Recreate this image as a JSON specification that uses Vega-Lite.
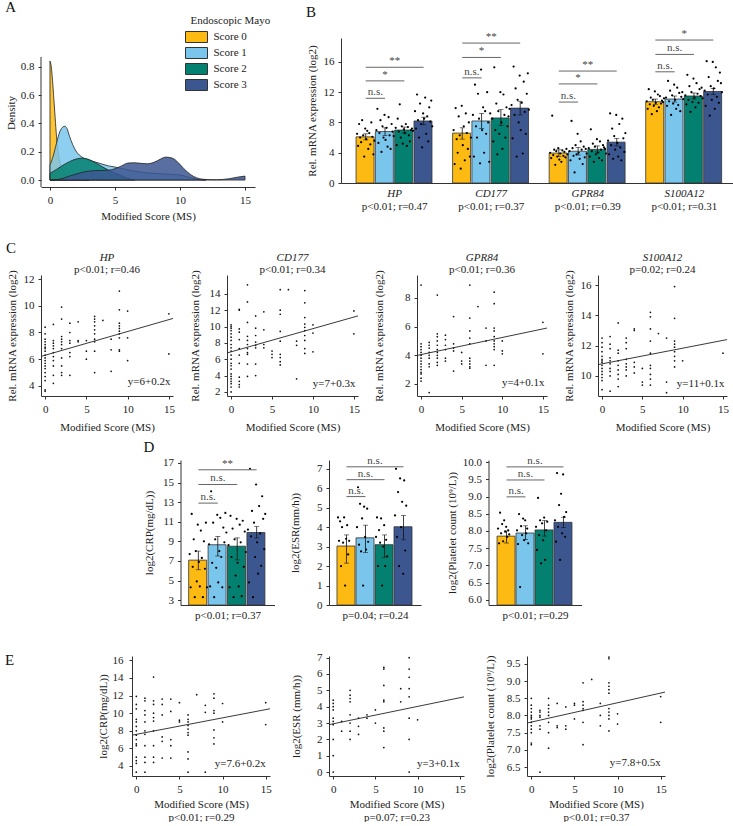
{
"$schema": "https://vega.github.io/schema/vega-lite/v6.json",
"padding": {"left": 5, "top": 0, "right": 2, "bottom": 0},
"config": {
 "font": "Liberation Serif",
 "view": {"stroke": null},
 "axis": {"grid": false, "domainColor": "#333", "tickColor": "#333", "labelColor": "#222", "titleColor": "#222", "labelFont": "Liberation Serif", "titleFont": "Liberation Serif", "labelFontSize": 11, "titleFontSize": 11, "titleFontWeight": "normal", "tickSize": 3, "labelPadding": 4, "titlePadding": 5, "labelFlush": false, "labelOverlap": false},
 "axisX": {"labelOverlap": false, "titleFontWeight": "normal", "titleFont": "Liberation Serif", "labelFont": "Liberation Serif"},
 "axisY": {"labelOverlap": false, "titleFontWeight": "normal", "titleFont": "Liberation Serif", "labelFont": "Liberation Serif"},
 "style": {"guide-title": {"font": "Liberation Serif", "fontWeight": "normal"}, "guide-label": {"font": "Liberation Serif"}},
 "title": {"fontWeight": "normal", "fontSize": 15, "color": "#111", "font": "Liberation Serif"},
 "legend": {"labelFontSize": 11, "titleFontSize": 11, "titleFontWeight": "normal", "labelFont": "Liberation Serif", "titleFont": "Liberation Serif"},
 "text": {"fontSize": 11, "color": "#222", "font": "Liberation Serif"}
},
"datasets": {
 "dens": [
  {"s":"Score 0","ms":0,"d":0.84},{"s":"Score 0","ms":0.1,"d":0.8},{"s":"Score 0","ms":0.2,"d":0.7},{"s":"Score 0","ms":0.3,"d":0.57},{"s":"Score 0","ms":0.4,"d":0.44},{"s":"Score 0","ms":0.5,"d":0.31},{"s":"Score 0","ms":0.6,"d":0.21},{"s":"Score 0","ms":0.75,"d":0.13},{"s":"Score 0","ms":0.9,"d":0.08},{"s":"Score 0","ms":1.1,"d":0.05},{"s":"Score 0","ms":1.5,"d":0.02},{"s":"Score 0","ms":2,"d":0.008},{"s":"Score 0","ms":2.5,"d":0.002},{"s":"Score 0","ms":3,"d":0},
  {"s":"Score 1","ms":0,"d":0.106},{"s":"Score 1","ms":0.25,"d":0.17},{"s":"Score 1","ms":0.5,"d":0.26},{"s":"Score 1","ms":0.75,"d":0.34},{"s":"Score 1","ms":1,"d":0.375},{"s":"Score 1","ms":1.15,"d":0.38},{"s":"Score 1","ms":1.3,"d":0.365},{"s":"Score 1","ms":1.5,"d":0.31},{"s":"Score 1","ms":1.75,"d":0.25},{"s":"Score 1","ms":2,"d":0.205},{"s":"Score 1","ms":2.5,"d":0.16},{"s":"Score 1","ms":3,"d":0.14},{"s":"Score 1","ms":3.5,"d":0.127},{"s":"Score 1","ms":4,"d":0.113},{"s":"Score 1","ms":4.5,"d":0.1},{"s":"Score 1","ms":5,"d":0.092},{"s":"Score 1","ms":6,"d":0.072},{"s":"Score 1","ms":7,"d":0.056},{"s":"Score 1","ms":8,"d":0.047},{"s":"Score 1","ms":9,"d":0.042},{"s":"Score 1","ms":10,"d":0.036},{"s":"Score 1","ms":10.6,"d":0.022},{"s":"Score 1","ms":11.2,"d":0.007},{"s":"Score 1","ms":12,"d":0},
  {"s":"Score 2","ms":0,"d":0.047},{"s":"Score 2","ms":0.5,"d":0.075},{"s":"Score 2","ms":1,"d":0.105},{"s":"Score 2","ms":1.5,"d":0.13},{"s":"Score 2","ms":2,"d":0.148},{"s":"Score 2","ms":2.5,"d":0.155},{"s":"Score 2","ms":3,"d":0.145},{"s":"Score 2","ms":3.5,"d":0.122},{"s":"Score 2","ms":4,"d":0.095},{"s":"Score 2","ms":4.5,"d":0.07},{"s":"Score 2","ms":5,"d":0.05},{"s":"Score 2","ms":5.5,"d":0.03},{"s":"Score 2","ms":6,"d":0.012},{"s":"Score 2","ms":6.5,"d":0.002},
  {"s":"Score 3","ms":0,"d":0},{"s":"Score 3","ms":0.5,"d":0.003},{"s":"Score 3","ms":1,"d":0.012},{"s":"Score 3","ms":1.5,"d":0.028},{"s":"Score 3","ms":2,"d":0.042},{"s":"Score 3","ms":2.5,"d":0.055},{"s":"Score 3","ms":3,"d":0.063},{"s":"Score 3","ms":3.5,"d":0.067},{"s":"Score 3","ms":4,"d":0.068},{"s":"Score 3","ms":4.5,"d":0.07},{"s":"Score 3","ms":5,"d":0.08},{"s":"Score 3","ms":5.5,"d":0.1},{"s":"Score 3","ms":6,"d":0.12},{"s":"Score 3","ms":6.5,"d":0.122},{"s":"Score 3","ms":7,"d":0.118},{"s":"Score 3","ms":7.5,"d":0.115},{"s":"Score 3","ms":8,"d":0.125},{"s":"Score 3","ms":8.5,"d":0.148},{"s":"Score 3","ms":8.9,"d":0.162},{"s":"Score 3","ms":9.4,"d":0.155},{"s":"Score 3","ms":9.9,"d":0.12},{"s":"Score 3","ms":10.3,"d":0.08},{"s":"Score 3","ms":10.8,"d":0.04},{"s":"Score 3","ms":11.3,"d":0.015},{"s":"Score 3","ms":12,"d":0.004},{"s":"Score 3","ms":12.8,"d":0.002},{"s":"Score 3","ms":13.8,"d":0.01},{"s":"Score 3","ms":14.4,"d":0.02},{"s":"Score 3","ms":15,"d":0.028}
 ],
 "bbars": [
  {"b":"HP|0","s":"Score 0","m":6.1,"lo":5.7,"hi":6.5},{"b":"HP|1","s":"Score 1","m":6.8,"lo":6.3,"hi":7.3},{"b":"HP|2","s":"Score 2","m":7.0,"lo":6.6,"hi":7.4},{"b":"HP|3","s":"Score 3","m":8.2,"lo":7.7,"hi":8.7},
  {"b":"CD177|0","s":"Score 0","m":6.6,"lo":5.8,"hi":7.3},{"b":"CD177|1","s":"Score 1","m":8.2,"lo":7.2,"hi":9.2},{"b":"CD177|2","s":"Score 2","m":8.6,"lo":7.6,"hi":9.7},{"b":"CD177|3","s":"Score 3","m":9.9,"lo":9.0,"hi":10.8},
  {"b":"GPR84|0","s":"Score 0","m":3.96,"lo":3.5,"hi":4.4},{"b":"GPR84|1","s":"Score 1","m":4.2,"lo":3.7,"hi":4.7},{"b":"GPR84|2","s":"Score 2","m":4.45,"lo":4.1,"hi":4.9},{"b":"GPR84|3","s":"Score 3","m":5.4,"lo":4.9,"hi":5.9},
  {"b":"S100A12|0","s":"Score 0","m":10.75,"lo":10.4,"hi":11.1},{"b":"S100A12|1","s":"Score 1","m":11.1,"lo":10.7,"hi":11.5},{"b":"S100A12|2","s":"Score 2","m":11.5,"lo":11.1,"hi":11.9},{"b":"S100A12|3","s":"Score 3","m":12.1,"lo":11.7,"hi":12.5}
 ],
 "bpts": [
  {"b":"HP|0","v":6.5},{"b":"HP|0","v":4.9},{"b":"HP|0","v":7.8},{"b":"HP|0","v":6.0},{"b":"HP|0","v":5.4},{"b":"HP|0","v":8.3},{"b":"HP|0","v":6.3},{"b":"HP|0","v":3.5},{"b":"HP|0","v":7.2},{"b":"HP|0","v":5.8},{"b":"HP|0","v":6.9},{"b":"HP|0","v":4.5},{"b":"HP|0","v":6.6},{"b":"HP|0","v":5.1},{"b":"HP|0","v":8.0},{"b":"HP|0","v":6.1},{"b":"HP|0","v":3.8},{"b":"HP|0","v":5.6},
  {"b":"HP|1","v":7.0},{"b":"HP|1","v":9.8},{"b":"HP|1","v":5.3},{"b":"HP|1","v":6.6},{"b":"HP|1","v":8.3},{"b":"HP|1","v":4.1},{"b":"HP|1","v":7.5},{"b":"HP|1","v":6.0},{"b":"HP|1","v":9.0},{"b":"HP|1","v":5.7},{"b":"HP|1","v":7.3},{"b":"HP|1","v":4.8},{"b":"HP|1","v":8.7},{"b":"HP|1","v":6.3},{"b":"HP|1","v":4.5},{"b":"HP|1","v":7.8},{"b":"HP|1","v":6.8},{"b":"HP|1","v":6.2},
  {"b":"HP|2","v":7.3},{"b":"HP|2","v":5.0},{"b":"HP|2","v":8.5},{"b":"HP|2","v":6.8},{"b":"HP|2","v":10.4},{"b":"HP|2","v":6.0},{"b":"HP|2","v":7.5},{"b":"HP|2","v":5.2},{"b":"HP|2","v":7.1},{"b":"HP|2","v":6.6},{"b":"HP|2","v":7.8},{"b":"HP|2","v":4.9},{"b":"HP|2","v":7.4},{"b":"HP|2","v":6.3},{"b":"HP|2","v":5.5},{"b":"HP|2","v":7.0},{"b":"HP|2","v":7.2},{"b":"HP|2","v":6.9},
  {"b":"HP|3","v":9.5},{"b":"HP|3","v":7.2},{"b":"HP|3","v":11.7},{"b":"HP|3","v":8.3},{"b":"HP|3","v":6.0},{"b":"HP|3","v":10.5},{"b":"HP|3","v":7.8},{"b":"HP|3","v":4.7},{"b":"HP|3","v":9.2},{"b":"HP|3","v":8.5},{"b":"HP|3","v":11.3},{"b":"HP|3","v":6.5},{"b":"HP|3","v":8.8},{"b":"HP|3","v":5.5},{"b":"HP|3","v":10.0},{"b":"HP|3","v":8.1},{"b":"HP|3","v":10.9},{"b":"HP|3","v":7.5},
  {"b":"CD177|0","v":7.0},{"b":"CD177|0","v":2.5},{"b":"CD177|0","v":9.9},{"b":"CD177|0","v":5.8},{"b":"CD177|0","v":4.0},{"b":"CD177|0","v":8.8},{"b":"CD177|0","v":6.3},{"b":"CD177|0","v":1.9},{"b":"CD177|0","v":10.2},{"b":"CD177|0","v":5.0},{"b":"CD177|0","v":7.5},{"b":"CD177|0","v":3.0},{"b":"CD177|0","v":9.2},{"b":"CD177|0","v":6.6},{"b":"CD177|0","v":4.5},{"b":"CD177|0","v":8.0},{"b":"CD177|0","v":3.5},{"b":"CD177|0","v":6.0},
  {"b":"CD177|1","v":9.0},{"b":"CD177|1","v":3.5},{"b":"CD177|1","v":13.0},{"b":"CD177|1","v":7.5},{"b":"CD177|1","v":6.0},{"b":"CD177|1","v":11.8},{"b":"CD177|1","v":8.5},{"b":"CD177|1","v":2.6},{"b":"CD177|1","v":15.0},{"b":"CD177|1","v":7.0},{"b":"CD177|1","v":10.0},{"b":"CD177|1","v":4.0},{"b":"CD177|1","v":9.5},{"b":"CD177|1","v":6.5},{"b":"CD177|1","v":12.0},{"b":"CD177|1","v":8.0},{"b":"CD177|1","v":2.8},{"b":"CD177|1","v":9.2},
  {"b":"CD177|2","v":8.5},{"b":"CD177|2","v":5.5},{"b":"CD177|2","v":15.3},{"b":"CD177|2","v":7.0},{"b":"CD177|2","v":10.5},{"b":"CD177|2","v":3.8},{"b":"CD177|2","v":9.5},{"b":"CD177|2","v":6.5},{"b":"CD177|2","v":12.0},{"b":"CD177|2","v":8.0},{"b":"CD177|2","v":4.5},{"b":"CD177|2","v":11.7},{"b":"CD177|2","v":9.0},{"b":"CD177|2","v":6.0},{"b":"CD177|2","v":10.0},{"b":"CD177|2","v":7.5},{"b":"CD177|2","v":8.8},{"b":"CD177|2","v":9.8},
  {"b":"CD177|3","v":10.3},{"b":"CD177|3","v":5.9},{"b":"CD177|3","v":15.4},{"b":"CD177|3","v":9.0},{"b":"CD177|3","v":12.5},{"b":"CD177|3","v":3.5},{"b":"CD177|3","v":11.0},{"b":"CD177|3","v":8.0},{"b":"CD177|3","v":14.2},{"b":"CD177|3","v":7.0},{"b":"CD177|3","v":10.6},{"b":"CD177|3","v":3.9},{"b":"CD177|3","v":13.4},{"b":"CD177|3","v":9.4},{"b":"CD177|3","v":6.5},{"b":"CD177|3","v":11.8},{"b":"CD177|3","v":14.5},{"b":"CD177|3","v":9.7},
  {"b":"GPR84|0","v":4.0},{"b":"GPR84|0","v":3.3},{"b":"GPR84|0","v":8.9},{"b":"GPR84|0","v":3.7},{"b":"GPR84|0","v":4.4},{"b":"GPR84|0","v":2.4},{"b":"GPR84|0","v":4.2},{"b":"GPR84|0","v":3.5},{"b":"GPR84|0","v":4.6},{"b":"GPR84|0","v":3.1},{"b":"GPR84|0","v":3.9},{"b":"GPR84|0","v":2.8},{"b":"GPR84|0","v":4.3},{"b":"GPR84|0","v":3.6},{"b":"GPR84|0","v":4.1},{"b":"GPR84|0","v":3.4},{"b":"GPR84|0","v":4.5},{"b":"GPR84|0","v":3.8},
  {"b":"GPR84|1","v":4.2},{"b":"GPR84|1","v":3.0},{"b":"GPR84|1","v":8.2},{"b":"GPR84|1","v":4.6},{"b":"GPR84|1","v":3.6},{"b":"GPR84|1","v":1.4},{"b":"GPR84|1","v":5.0},{"b":"GPR84|1","v":3.8},{"b":"GPR84|1","v":6.5},{"b":"GPR84|1","v":4.0},{"b":"GPR84|1","v":3.2},{"b":"GPR84|1","v":5.5},{"b":"GPR84|1","v":4.4},{"b":"GPR84|1","v":2.5},{"b":"GPR84|1","v":4.8},{"b":"GPR84|1","v":3.4},{"b":"GPR84|1","v":4.5},{"b":"GPR84|1","v":3.9},
  {"b":"GPR84|2","v":4.6},{"b":"GPR84|2","v":3.5},{"b":"GPR84|2","v":7.1},{"b":"GPR84|2","v":4.2},{"b":"GPR84|2","v":5.2},{"b":"GPR84|2","v":2.8},{"b":"GPR84|2","v":4.8},{"b":"GPR84|2","v":3.8},{"b":"GPR84|2","v":5.8},{"b":"GPR84|2","v":4.0},{"b":"GPR84|2","v":3.3},{"b":"GPR84|2","v":5.5},{"b":"GPR84|2","v":4.4},{"b":"GPR84|2","v":3.0},{"b":"GPR84|2","v":5.0},{"b":"GPR84|2","v":4.7},{"b":"GPR84|2","v":4.5},{"b":"GPR84|2","v":3.9},
  {"b":"GPR84|3","v":5.6},{"b":"GPR84|3","v":3.8},{"b":"GPR84|3","v":9.2},{"b":"GPR84|3","v":5.0},{"b":"GPR84|3","v":7.2},{"b":"GPR84|3","v":3.2},{"b":"GPR84|3","v":6.2},{"b":"GPR84|3","v":4.4},{"b":"GPR84|3","v":9.0},{"b":"GPR84|3","v":5.3},{"b":"GPR84|3","v":3.5},{"b":"GPR84|3","v":7.8},{"b":"GPR84|3","v":4.7},{"b":"GPR84|3","v":3.0},{"b":"GPR84|3","v":8.5},{"b":"GPR84|3","v":5.9},{"b":"GPR84|3","v":4.1},{"b":"GPR84|3","v":6.6},
  {"b":"S100A12|0","v":10.8},{"b":"S100A12|0","v":9.8},{"b":"S100A12|0","v":12.4},{"b":"S100A12|0","v":10.4},{"b":"S100A12|0","v":11.3},{"b":"S100A12|0","v":9.1},{"b":"S100A12|0","v":11.0},{"b":"S100A12|0","v":10.2},{"b":"S100A12|0","v":12.1},{"b":"S100A12|0","v":10.6},{"b":"S100A12|0","v":9.5},{"b":"S100A12|0","v":11.7},{"b":"S100A12|0","v":10.0},{"b":"S100A12|0","v":11.5},{"b":"S100A12|0","v":10.5},{"b":"S100A12|0","v":10.9},{"b":"S100A12|0","v":10.7},{"b":"S100A12|0","v":11.2},
  {"b":"S100A12|1","v":11.3},{"b":"S100A12|1","v":10.2},{"b":"S100A12|1","v":13.5},{"b":"S100A12|1","v":10.8},{"b":"S100A12|1","v":12.2},{"b":"S100A12|1","v":9.0},{"b":"S100A12|1","v":11.6},{"b":"S100A12|1","v":10.5},{"b":"S100A12|1","v":13.0},{"b":"S100A12|1","v":11.0},{"b":"S100A12|1","v":9.8},{"b":"S100A12|1","v":12.6},{"b":"S100A12|1","v":10.3},{"b":"S100A12|1","v":11.9},{"b":"S100A12|1","v":9.5},{"b":"S100A12|1","v":11.4},{"b":"S100A12|1","v":12.0},{"b":"S100A12|1","v":11.1},
  {"b":"S100A12|2","v":11.6},{"b":"S100A12|2","v":10.4},{"b":"S100A12|2","v":14.3},{"b":"S100A12|2","v":11.0},{"b":"S100A12|2","v":12.8},{"b":"S100A12|2","v":9.4},{"b":"S100A12|2","v":12.0},{"b":"S100A12|2","v":10.7},{"b":"S100A12|2","v":13.8},{"b":"S100A12|2","v":11.3},{"b":"S100A12|2","v":10.0},{"b":"S100A12|2","v":13.2},{"b":"S100A12|2","v":11.8},{"b":"S100A12|2","v":10.6},{"b":"S100A12|2","v":12.4},{"b":"S100A12|2","v":11.5},{"b":"S100A12|2","v":12.6},{"b":"S100A12|2","v":11.2},
  {"b":"S100A12|3","v":12.2},{"b":"S100A12|3","v":10.2},{"b":"S100A12|3","v":16.1},{"b":"S100A12|3","v":11.7},{"b":"S100A12|3","v":14.0},{"b":"S100A12|3","v":8.9},{"b":"S100A12|3","v":12.8},{"b":"S100A12|3","v":11.0},{"b":"S100A12|3","v":16.0},{"b":"S100A12|3","v":12.5},{"b":"S100A12|3","v":9.8},{"b":"S100A12|3","v":15.3},{"b":"S100A12|3","v":11.4},{"b":"S100A12|3","v":13.5},{"b":"S100A12|3","v":10.6},{"b":"S100A12|3","v":14.6},{"b":"S100A12|3","v":13.2},{"b":"S100A12|3","v":12.0}
 ],
 "bbr": [
  {"x1":"HP|0","x2":"HP|1","mid":"HP|1","vs":1,"y":11.2,"lab":"n.s."},{"x1":"HP|0","x2":"HP|2","mid":"HP|1","vs":2,"y":13.5,"lab":"*"},{"x1":"HP|0","x2":"HP|3","mid":"HP|1","vs":3,"y":15.3,"lab":"**"},
  {"x1":"CD177|0","x2":"CD177|1","mid":"CD177|1","vs":1,"y":13.9,"lab":"n.s."},{"x1":"CD177|0","x2":"CD177|2","mid":"CD177|1","vs":2,"y":16.6,"lab":"*"},{"x1":"CD177|0","x2":"CD177|3","mid":"CD177|1","vs":3,"y":18.5,"lab":"**"},
  {"x1":"GPR84|0","x2":"GPR84|1","mid":"GPR84|1","vs":1,"y":10.7,"lab":"n.s."},{"x1":"GPR84|0","x2":"GPR84|2","mid":"GPR84|1","vs":2,"y":13.1,"lab":"*"},{"x1":"GPR84|0","x2":"GPR84|3","mid":"GPR84|1","vs":3,"y":14.8,"lab":"**"},
  {"x1":"S100A12|0","x2":"S100A12|1","mid":"S100A12|1","vs":1,"y":14.7,"lab":"n.s."},{"x1":"S100A12|0","x2":"S100A12|2","mid":"S100A12|1","vs":2,"y":17.0,"lab":"n.s."},{"x1":"S100A12|0","x2":"S100A12|3","mid":"S100A12|1","vs":3,"y":18.9,"lab":"*"}
 ],
 "bgene": [
  {"b":"HP|1","g":"HP","p":"p<0.01; r=0.47"},{"b":"CD177|1","g":"CD177","p":"p<0.01; r=0.37"},{"b":"GPR84|1","g":"GPR84","p":"p<0.01; r=0.39"},{"b":"S100A12|1","g":"S100A12","p":"p<0.01; r=0.31"}
 ],
 "c1": [
  {"ms":0,"v":8.4},{"ms":0,"v":7.9},{"ms":0,"v":7.5},{"ms":0,"v":7.3},{"ms":0,"v":7.1},{"ms":0,"v":6.9},{"ms":0,"v":6.8},{"ms":0,"v":6.6},{"ms":0,"v":6.3},{"ms":0,"v":6.1},{"ms":0,"v":5.9},{"ms":0,"v":5.7},{"ms":0,"v":5.5},{"ms":0,"v":5.3},{"ms":0,"v":5.0},{"ms":0,"v":4.7},{"ms":0,"v":4.4},{"ms":0,"v":3.7},{"ms":0,"v":3.6},
  {"ms":1,"v":8.6},{"ms":1,"v":7.4},{"ms":1,"v":7.2},{"ms":1,"v":7.0},{"ms":1,"v":6.8},{"ms":1,"v":6.5},{"ms":1,"v":6.2},{"ms":1,"v":5.9},{"ms":1,"v":5.5},{"ms":1,"v":4.8},{"ms":1,"v":4.2},
  {"ms":2,"v":9.9},{"ms":2,"v":9.0},{"ms":2,"v":7.7},{"ms":2,"v":7.5},{"ms":2,"v":7.3},{"ms":2,"v":7.1},{"ms":2,"v":6.8},{"ms":2,"v":6.1},{"ms":2,"v":5.5},{"ms":2,"v":5.0},{"ms":2,"v":4.8},
  {"ms":3,"v":8.7},{"ms":3,"v":8.0},{"ms":3,"v":7.4},{"ms":3,"v":7.2},{"ms":3,"v":6.5},{"ms":3,"v":6.2},{"ms":3,"v":4.8},
  {"ms":4,"v":8.8},{"ms":4,"v":7.4},{"ms":4,"v":7.3},{"ms":5,"v":7.4},{"ms":5,"v":6.6},{"ms":5,"v":6.0},
  {"ms":6,"v":9.2},{"ms":6,"v":9.0},{"ms":6,"v":8.8},{"ms":6,"v":8.5},{"ms":6,"v":8.2},{"ms":6,"v":7.9},{"ms":6,"v":7.5},{"ms":6,"v":7.3},{"ms":6,"v":6.6},{"ms":6,"v":5.0},
  {"ms":7,"v":8.9},{"ms":8,"v":7.5},{"ms":8,"v":6.7},{"ms":8,"v":5.1},
  {"ms":9,"v":11.1},{"ms":9,"v":9.7},{"ms":9,"v":8.7},{"ms":9,"v":8.5},{"ms":9,"v":8.3},{"ms":9,"v":8.1},{"ms":9,"v":7.9},{"ms":9,"v":7.6},{"ms":9,"v":6.7},{"ms":9,"v":6.6},
  {"ms":10,"v":9.6},{"ms":10,"v":7.6},{"ms":10,"v":5.9},{"ms":15,"v":9.4},{"ms":15,"v":6.4}
 ],
 "c2": [
  {"ms":0,"v":10.2},{"ms":0,"v":10.0},{"ms":0,"v":9.8},{"ms":0,"v":9.5},{"ms":0,"v":9.1},{"ms":0,"v":8.7},{"ms":0,"v":8.3},{"ms":0,"v":7.8},{"ms":0,"v":7.4},{"ms":0,"v":7.0},{"ms":0,"v":6.5},{"ms":0,"v":6.0},{"ms":0,"v":5.5},{"ms":0,"v":5.2},{"ms":0,"v":4.8},{"ms":0,"v":4.2},{"ms":0,"v":3.9},{"ms":0,"v":3.6},{"ms":0,"v":3.3},{"ms":0,"v":3.0},{"ms":0,"v":2.6},{"ms":0,"v":2.0},
  {"ms":1,"v":12.1},{"ms":1,"v":12.0},{"ms":1,"v":9.7},{"ms":1,"v":9.3},{"ms":1,"v":8.4},{"ms":1,"v":7.3},{"ms":1,"v":6.5},{"ms":1,"v":5.5},{"ms":1,"v":3.8},{"ms":1,"v":3.3},{"ms":1,"v":2.9},{"ms":1,"v":2.6},
  {"ms":2,"v":15.1},{"ms":2,"v":13.0},{"ms":2,"v":10.5},{"ms":2,"v":8.8},{"ms":2,"v":8.3},{"ms":2,"v":7.8},{"ms":2,"v":7.3},{"ms":2,"v":6.8},{"ms":2,"v":6.6},{"ms":2,"v":5.4},{"ms":2,"v":3.9},
  {"ms":3,"v":11.3},{"ms":3,"v":9.8},{"ms":3,"v":8.9},{"ms":3,"v":8.1},{"ms":3,"v":7.7},{"ms":3,"v":7.4},{"ms":3,"v":5.4},{"ms":3,"v":4.0},
  {"ms":4,"v":11.8},{"ms":4,"v":9.6},{"ms":4,"v":7.8},{"ms":4,"v":7.4},{"ms":5,"v":7.0},{"ms":5,"v":6.6},{"ms":5,"v":6.2},
  {"ms":6,"v":14.5},{"ms":6,"v":12.0},{"ms":6,"v":11.5},{"ms":6,"v":9.4},{"ms":6,"v":8.2},{"ms":6,"v":6.6},{"ms":6,"v":6.2},{"ms":6,"v":5.7},{"ms":6,"v":5.3},
  {"ms":7,"v":14.5},{"ms":8,"v":8.2},{"ms":8,"v":7.7},{"ms":8,"v":3.6},
  {"ms":9,"v":14.4},{"ms":9,"v":12.9},{"ms":9,"v":11.1},{"ms":9,"v":10.3},{"ms":9,"v":9.9},{"ms":9,"v":9.5},{"ms":9,"v":8.9},{"ms":9,"v":8.3},{"ms":9,"v":7.3},{"ms":9,"v":6.7},
  {"ms":10,"v":10.2},{"ms":10,"v":9.2},{"ms":10,"v":6.9},{"ms":15,"v":11.9},{"ms":15,"v":9.1}
 ],
 "c3": [
  {"ms":0,"v":8.9},{"ms":0,"v":4.8},{"ms":0,"v":4.6},{"ms":0,"v":4.4},{"ms":0,"v":4.2},{"ms":0,"v":4.0},{"ms":0,"v":3.8},{"ms":0,"v":3.6},{"ms":0,"v":3.4},{"ms":0,"v":3.2},{"ms":0,"v":3.0},{"ms":0,"v":2.8},{"ms":0,"v":2.7},{"ms":0,"v":2.4},{"ms":0,"v":2.2},
  {"ms":1,"v":4.9},{"ms":1,"v":4.7},{"ms":1,"v":4.5},{"ms":1,"v":4.2},{"ms":1,"v":4.0},{"ms":1,"v":3.8},{"ms":1,"v":3.4},{"ms":1,"v":3.2},{"ms":1,"v":1.4},
  {"ms":2,"v":8.2},{"ms":2,"v":5.5},{"ms":2,"v":5.3},{"ms":2,"v":5.0},{"ms":2,"v":4.7},{"ms":2,"v":4.4},{"ms":2,"v":4.2},{"ms":2,"v":4.0},{"ms":2,"v":3.8},{"ms":2,"v":3.5},{"ms":2,"v":3.3},
  {"ms":3,"v":5.4},{"ms":3,"v":5.1},{"ms":3,"v":4.7},{"ms":3,"v":4.4},{"ms":3,"v":3.8},{"ms":3,"v":3.6},
  {"ms":4,"v":6.7},{"ms":4,"v":4.8},{"ms":4,"v":4.5},{"ms":4,"v":4.3},{"ms":4,"v":2.9},{"ms":5,"v":4.2},{"ms":5,"v":3.6},{"ms":5,"v":3.4},
  {"ms":6,"v":8.9},{"ms":6,"v":6.6},{"ms":6,"v":5.7},{"ms":6,"v":5.2},{"ms":6,"v":4.8},{"ms":6,"v":3.8},{"ms":6,"v":3.6},{"ms":6,"v":3.4},{"ms":6,"v":3.2},{"ms":6,"v":3.1},
  {"ms":7,"v":7.4},{"ms":8,"v":5.9},{"ms":8,"v":5.0},{"ms":8,"v":3.3},
  {"ms":9,"v":8.4},{"ms":9,"v":7.6},{"ms":9,"v":5.9},{"ms":9,"v":5.7},{"ms":9,"v":5.3},{"ms":9,"v":5.0},{"ms":9,"v":4.8},{"ms":9,"v":4.6},{"ms":9,"v":4.4},{"ms":9,"v":3.3},
  {"ms":10,"v":5.0},{"ms":10,"v":4.3},{"ms":10,"v":4.1},{"ms":15,"v":6.3},{"ms":15,"v":4.1}
 ],
 "c4": [
  {"ms":0,"v":12.5},{"ms":0,"v":12.2},{"ms":0,"v":11.9},{"ms":0,"v":11.6},{"ms":0,"v":11.3},{"ms":0,"v":11.1},{"ms":0,"v":11.0},{"ms":0,"v":10.9},{"ms":0,"v":10.7},{"ms":0,"v":10.5},{"ms":0,"v":10.3},{"ms":0,"v":10.1},{"ms":0,"v":9.9},{"ms":0,"v":9.7},{"ms":0,"v":9.1},
  {"ms":1,"v":12.6},{"ms":1,"v":12.1},{"ms":1,"v":11.8},{"ms":1,"v":11.2},{"ms":1,"v":11.0},{"ms":1,"v":10.8},{"ms":1,"v":10.5},{"ms":1,"v":10.3},{"ms":1,"v":10.0},{"ms":1,"v":9.0},
  {"ms":2,"v":13.5},{"ms":2,"v":11.7},{"ms":2,"v":11.5},{"ms":2,"v":11.0},{"ms":2,"v":10.7},{"ms":2,"v":10.4},{"ms":2,"v":10.1},{"ms":2,"v":9.8},{"ms":2,"v":9.3},
  {"ms":3,"v":12.5},{"ms":3,"v":12.2},{"ms":3,"v":11.8},{"ms":3,"v":11.1},{"ms":3,"v":10.8},{"ms":3,"v":10.6},{"ms":3,"v":10.4},{"ms":3,"v":10.0},
  {"ms":4,"v":13.1},{"ms":4,"v":13.0},{"ms":4,"v":10.9},{"ms":4,"v":10.6},{"ms":4,"v":10.2},{"ms":5,"v":10.5},{"ms":5,"v":9.6},{"ms":5,"v":9.4},
  {"ms":6,"v":14.2},{"ms":6,"v":13.9},{"ms":6,"v":13.1},{"ms":6,"v":12.3},{"ms":6,"v":11.5},{"ms":6,"v":10.7},{"ms":6,"v":10.5},{"ms":6,"v":10.1},{"ms":6,"v":9.8},{"ms":6,"v":9.4},
  {"ms":7,"v":12.8},{"ms":8,"v":12.5},{"ms":8,"v":9.6},{"ms":8,"v":8.9},
  {"ms":9,"v":15.9},{"ms":9,"v":13.8},{"ms":9,"v":12.3},{"ms":9,"v":12.1},{"ms":9,"v":11.9},{"ms":9,"v":11.6},{"ms":9,"v":11.3},{"ms":9,"v":11.0},{"ms":9,"v":10.6},
  {"ms":10,"v":11.0},{"ms":15,"v":11.5}
 ],
 "d1bars": [
  {"s":"Score 0","m":7.08,"lo":6.1,"hi":8.0},{"s":"Score 1","m":8.65,"lo":7.5,"hi":9.5},{"s":"Score 2","m":8.5,"lo":7.1,"hi":9.35},{"s":"Score 3","m":9.9,"lo":9.35,"hi":10.5}
 ],
 "d1pts": [
  {"s":"Score 0","v":7.7},{"s":"Score 0","v":4.3},{"s":"Score 0","v":11.8},{"s":"Score 0","v":6.4},{"s":"Score 0","v":9.2},{"s":"Score 0","v":3.3},{"s":"Score 0","v":8.0},{"s":"Score 0","v":4.9},{"s":"Score 0","v":10.7},{"s":"Score 0","v":6.9},{"s":"Score 0","v":4.4},{"s":"Score 0","v":10.1},{"s":"Score 0","v":7.3},{"s":"Score 0","v":3.3},{"s":"Score 0","v":9.0},{"s":"Score 0","v":6.2},{"s":"Score 0","v":10.9},{"s":"Score 0","v":4.3},
  {"s":"Score 1","v":8.7},{"s":"Score 1","v":4.4},{"s":"Score 1","v":14.1},{"s":"Score 1","v":6.8},{"s":"Score 1","v":10.9},{"s":"Score 1","v":3.3},{"s":"Score 1","v":9.2},{"s":"Score 1","v":6.3},{"s":"Score 1","v":11.7},{"s":"Score 1","v":4.8},{"s":"Score 1","v":8.0},{"s":"Score 1","v":11.4},{"s":"Score 1","v":7.4},{"s":"Score 1","v":4.3},{"s":"Score 1","v":10.4},{"s":"Score 1","v":8.9},{"s":"Score 1","v":11.9},{"s":"Score 1","v":9.9},
  {"s":"Score 2","v":8.6},{"s":"Score 2","v":4.3},{"s":"Score 2","v":11.6},{"s":"Score 2","v":7.4},{"s":"Score 2","v":10.3},{"s":"Score 2","v":3.3},{"s":"Score 2","v":9.2},{"s":"Score 2","v":5.5},{"s":"Score 2","v":11.3},{"s":"Score 2","v":6.8},{"s":"Score 2","v":4.4},{"s":"Score 2","v":10.7},{"s":"Score 2","v":8.9},{"s":"Score 2","v":3.4},{"s":"Score 2","v":11.1},{"s":"Score 2","v":6.4},{"s":"Score 2","v":10.0},{"s":"Score 2","v":7.9},
  {"s":"Score 3","v":10.2},{"s":"Score 3","v":4.8},{"s":"Score 3","v":16.4},{"s":"Score 3","v":9.5},{"s":"Score 3","v":12.1},{"s":"Score 3","v":3.3},{"s":"Score 3","v":10.9},{"s":"Score 3","v":7.4},{"s":"Score 3","v":14.8},{"s":"Score 3","v":8.9},{"s":"Score 3","v":5.7},{"s":"Score 3","v":12.6},{"s":"Score 3","v":9.8},{"s":"Score 3","v":6.5},{"s":"Score 3","v":13.6},{"s":"Score 3","v":11.3},{"s":"Score 3","v":8.2},{"s":"Score 3","v":11.8}
 ],
 "d1br": [
  {"x1":"Score 0","x2":"Score 1","mid":"Score 1","vs":1,"y":12.9,"lab":"n.s."},{"x1":"Score 0","x2":"Score 2","mid":"Score 1","vs":2,"y":14.8,"lab":"n.s."},{"x1":"Score 0","x2":"Score 3","mid":"Score 1","vs":3,"y":16.3,"lab":"**"}
 ],
 "d2bars": [
  {"s":"Score 0","m":3.03,"lo":2.15,"hi":3.6},{"s":"Score 1","m":3.45,"lo":2.7,"hi":4.1},{"s":"Score 2","m":3.1,"lo":2.45,"hi":3.6},{"s":"Score 3","m":4.02,"lo":3.35,"hi":4.6}
 ],
 "d2pts": [
  {"s":"Score 0","v":4.5},{"s":"Score 0","v":3.3},{"s":"Score 0","v":4.3},{"s":"Score 0","v":2.0},{"s":"Score 0","v":4.0},{"s":"Score 0","v":3.2},{"s":"Score 0","v":4.5},{"s":"Score 0","v":1.0},{"s":"Score 0","v":3.4},{"s":"Score 0","v":4.1},{"s":"Score 0","v":2.6},{"s":"Score 0","v":3.3},
  {"s":"Score 1","v":4.0},{"s":"Score 1","v":6.05},{"s":"Score 1","v":3.1},{"s":"Score 1","v":5.2},{"s":"Score 1","v":2.75},{"s":"Score 1","v":4.45},{"s":"Score 1","v":1.0},{"s":"Score 1","v":5.05},{"s":"Score 1","v":3.5},{"s":"Score 1","v":2.85},{"s":"Score 1","v":4.95},{"s":"Score 1","v":3.25},
  {"s":"Score 2","v":3.5},{"s":"Score 2","v":4.5},{"s":"Score 2","v":2.0},{"s":"Score 2","v":3.85},{"s":"Score 2","v":3.2},{"s":"Score 2","v":4.45},{"s":"Score 2","v":1.0},{"s":"Score 2","v":3.0},{"s":"Score 2","v":4.1},{"s":"Score 2","v":2.0},{"s":"Score 2","v":3.35},{"s":"Score 2","v":2.5},
  {"s":"Score 3","v":4.6},{"s":"Score 3","v":7.0},{"s":"Score 3","v":3.5},{"s":"Score 3","v":5.8},{"s":"Score 3","v":2.0},{"s":"Score 3","v":6.5},{"s":"Score 3","v":4.0},{"s":"Score 3","v":5.3},{"s":"Score 3","v":1.6},{"s":"Score 3","v":6.4},{"s":"Score 3","v":2.8},{"s":"Score 3","v":5.1}
 ],
 "d2br": [
  {"x1":"Score 0","x2":"Score 1","mid":"Score 1","vs":1,"y":5.57,"lab":"n.s."},{"x1":"Score 0","x2":"Score 2","mid":"Score 1","vs":2,"y":6.44,"lab":"n.s."},{"x1":"Score 0","x2":"Score 3","mid":"Score 1","vs":3,"y":7.1,"lab":"n.s."}
 ],
 "d3bars": [
  {"s":"Score 0","m":7.85,"lo":7.65,"hi":8.0},{"s":"Score 1","m":7.94,"lo":7.75,"hi":8.15},{"s":"Score 2","m":8.03,"lo":7.85,"hi":8.3},{"s":"Score 3","m":8.25,"lo":8.1,"hi":8.4}
 ],
 "d3pts": [
  {"s":"Score 0","v":8.07},{"s":"Score 0","v":7.64},{"s":"Score 0","v":8.53},{"s":"Score 0","v":7.93},{"s":"Score 0","v":8.2},{"s":"Score 0","v":7.7},{"s":"Score 0","v":8.31},{"s":"Score 0","v":7.98},{"s":"Score 0","v":8.12},{"s":"Score 0","v":7.83},{"s":"Score 0","v":8.02},{"s":"Score 0","v":7.9},
  {"s":"Score 1","v":8.02},{"s":"Score 1","v":7.62},{"s":"Score 1","v":8.49},{"s":"Score 1","v":6.37},{"s":"Score 1","v":8.14},{"s":"Score 1","v":7.88},{"s":"Score 1","v":8.36},{"s":"Score 1","v":7.73},{"s":"Score 1","v":8.31},{"s":"Score 1","v":7.93},{"s":"Score 1","v":8.07},{"s":"Score 1","v":7.64},
  {"s":"Score 2","v":8.12},{"s":"Score 2","v":7.45},{"s":"Score 2","v":8.96},{"s":"Score 2","v":7.88},{"s":"Score 2","v":8.31},{"s":"Score 2","v":7.06},{"s":"Score 2","v":8.22},{"s":"Score 2","v":7.73},{"s":"Score 2","v":8.39},{"s":"Score 2","v":7.16},{"s":"Score 2","v":8.02},{"s":"Score 2","v":8.27},
  {"s":"Score 3","v":8.31},{"s":"Score 3","v":7.69},{"s":"Score 3","v":9.68},{"s":"Score 3","v":8.12},{"s":"Score 3","v":8.75},{"s":"Score 3","v":7.16},{"s":"Score 3","v":9.08},{"s":"Score 3","v":7.93},{"s":"Score 3","v":9.64},{"s":"Score 3","v":8.41},{"s":"Score 3","v":7.83},{"s":"Score 3","v":8.55}
 ],
 "d3br": [
  {"x1":"Score 0","x2":"Score 1","mid":"Score 1","vs":1,"y":8.99,"lab":"n.s."},{"x1":"Score 0","x2":"Score 2","mid":"Score 1","vs":2,"y":9.48,"lab":"n.s."},{"x1":"Score 0","x2":"Score 3","mid":"Score 1","vs":3,"y":9.86,"lab":"n.s."}
 ],
 "e1": [
  {"ms":0,"v":11.9},{"ms":0,"v":11.0},{"ms":0,"v":10.5},{"ms":0,"v":9.3},{"ms":0,"v":9.0},{"ms":0,"v":8.5},{"ms":0,"v":8.0},{"ms":0,"v":7.5},{"ms":0,"v":7.0},{"ms":0,"v":6.5},{"ms":0,"v":6.3},{"ms":0,"v":5.0},{"ms":0,"v":4.6},{"ms":0,"v":4.3},{"ms":0,"v":3.3},
  {"ms":1,"v":11.7},{"ms":1,"v":11.4},{"ms":1,"v":10.3},{"ms":1,"v":9.8},{"ms":1,"v":9.0},{"ms":1,"v":8.0},{"ms":1,"v":7.6},{"ms":1,"v":6.3},{"ms":1,"v":5.0},{"ms":1,"v":4.4},{"ms":1,"v":3.3},
  {"ms":2,"v":14.1},{"ms":2,"v":11.4},{"ms":2,"v":11.0},{"ms":2,"v":10.0},{"ms":2,"v":9.5},{"ms":2,"v":9.1},{"ms":2,"v":8.0},{"ms":2,"v":6.3},{"ms":2,"v":5.0},{"ms":2,"v":4.4},
  {"ms":3,"v":11.6},{"ms":3,"v":11.0},{"ms":3,"v":9.8},{"ms":3,"v":7.3},{"ms":3,"v":6.8},{"ms":3,"v":4.9},
  {"ms":4,"v":11.6},{"ms":4,"v":10.2},{"ms":4,"v":7.0},{"ms":4,"v":6.3},{"ms":4,"v":4.9},{"ms":5,"v":11.2},{"ms":5,"v":9.2},{"ms":5,"v":9.0},
  {"ms":6,"v":9.8},{"ms":6,"v":9.3},{"ms":6,"v":9.0},{"ms":6,"v":8.6},{"ms":6,"v":8.2},{"ms":6,"v":7.8},{"ms":6,"v":7.5},{"ms":6,"v":5.6},{"ms":6,"v":4.8},{"ms":6,"v":3.3},
  {"ms":7,"v":12.1},{"ms":8,"v":10.9},{"ms":8,"v":10.1},{"ms":8,"v":3.3},
  {"ms":9,"v":12.2},{"ms":9,"v":11.7},{"ms":9,"v":10.3},{"ms":9,"v":10.0},{"ms":9,"v":8.1},{"ms":9,"v":7.2},{"ms":9,"v":6.5},
  {"ms":10,"v":11.1},{"ms":10,"v":9.0},{"ms":15,"v":11.2},{"ms":15,"v":8.7}
 ],
 "e2": [
  {"ms":0,"v":4.4},{"ms":0,"v":4.2},{"ms":0,"v":4.0},{"ms":0,"v":3.8},{"ms":0,"v":3.3},{"ms":0,"v":3.1},{"ms":0,"v":2.9},{"ms":0,"v":2.0},{"ms":0,"v":1.0},{"ms":0,"v":0.0},
  {"ms":1,"v":3.1},{"ms":1,"v":2.5},
  {"ms":2,"v":5.0},{"ms":2,"v":4.7},{"ms":2,"v":4.5},{"ms":2,"v":4.3},{"ms":2,"v":3.5},{"ms":2,"v":3.0},{"ms":2,"v":2.5},{"ms":2,"v":2.0},
  {"ms":3,"v":3.3},{"ms":3,"v":2.8},{"ms":3,"v":2.3},{"ms":4,"v":3.5},{"ms":4,"v":3.3},{"ms":5,"v":3.8},{"ms":5,"v":3.0},
  {"ms":6,"v":6.4},{"ms":6,"v":6.3},{"ms":6,"v":5.3},{"ms":6,"v":4.4},{"ms":6,"v":4.3},{"ms":6,"v":2.7},{"ms":6,"v":2.5},{"ms":6,"v":1.5},
  {"ms":8,"v":5.1},{"ms":8,"v":4.3},
  {"ms":9,"v":7.0},{"ms":9,"v":6.3},{"ms":9,"v":5.8},{"ms":9,"v":5.1},{"ms":9,"v":4.6},{"ms":9,"v":3.3},{"ms":9,"v":2.0},{"ms":9,"v":0.0},
  {"ms":10,"v":3.2}
 ],
 "e3": [
  {"ms":0,"v":8.5},{"ms":0,"v":8.3},{"ms":0,"v":8.2},{"ms":0,"v":8.1},{"ms":0,"v":8.0},{"ms":0,"v":7.95},{"ms":0,"v":7.9},{"ms":0,"v":7.8},{"ms":0,"v":7.7},{"ms":0,"v":7.6},{"ms":0,"v":7.5},{"ms":0,"v":7.2},{"ms":0,"v":7.15},
  {"ms":1,"v":8.15},{"ms":1,"v":8.1},{"ms":1,"v":8.0},{"ms":1,"v":7.95},{"ms":1,"v":7.7},{"ms":1,"v":7.6},{"ms":1,"v":6.35},
  {"ms":2,"v":8.5},{"ms":2,"v":8.3},{"ms":2,"v":8.2},{"ms":2,"v":8.1},{"ms":2,"v":8.0},{"ms":2,"v":7.8},{"ms":2,"v":7.5},{"ms":2,"v":7.05},
  {"ms":3,"v":8.35},{"ms":3,"v":7.7},{"ms":3,"v":7.65},{"ms":4,"v":8.25},{"ms":4,"v":7.7},{"ms":4,"v":7.6},{"ms":5,"v":8.35},{"ms":5,"v":8.3},{"ms":5,"v":7.9},
  {"ms":6,"v":8.95},{"ms":6,"v":8.4},{"ms":6,"v":8.3},{"ms":6,"v":8.2},{"ms":6,"v":8.15},{"ms":6,"v":7.8},{"ms":6,"v":7.15},
  {"ms":7,"v":9.05},{"ms":8,"v":8.35},{"ms":8,"v":8.0},{"ms":8,"v":7.7},
  {"ms":9,"v":9.7},{"ms":9,"v":9.65},{"ms":9,"v":8.95},{"ms":9,"v":8.85},{"ms":9,"v":8.75},{"ms":9,"v":8.65},{"ms":9,"v":8.2},{"ms":9,"v":8.1},{"ms":9,"v":8.0},{"ms":9,"v":7.9},{"ms":9,"v":7.55},
  {"ms":10,"v":8.05},{"ms":10,"v":7.75},{"ms":15,"v":8.55},{"ms":15,"v":7.8}
 ]
},
"resolve": {"scale": {"color": "independent"}, "legend": {"color": "independent"}},
"spacing": 19,
"vconcat": [
 {
  "hconcat": [
   {
    "width": 214, "height": 149,
    "title": {"text": "A", "anchor": "start", "frame": "bounds", "offset": 0},
    "layer": [
     {"data": {"name": "dens"}, "mark": {"type": "area", "interpolate": "monotone", "fillOpacity": 0.85, "stroke": "#222", "strokeWidth": 0.8},
      "encoding": {
       "x": {"field": "ms", "type": "quantitative", "scale": {"domain": [-0.69, 15.77], "nice": false, "zero": false}, "axis": {"values": [0, 5, 10, 15], "tickCount": 50, "format": "d", "title": "Modified Score (MS)", "titleFont": "Liberation Serif", "titleFontWeight": "normal", "labelOverlap": false}},
       "y": {"field": "d", "type": "quantitative", "stack": null, "scale": {"domain": [-0.049, 1.003], "nice": false, "zero": false}, "axis": {"values": [0, 0.2, 0.4, 0.6, 0.8], "tickCount": 50, "format": ".1f", "title": "Density", "domain": false, "titlePadding": 4, "labelOverlap": false}},
       "color": {"field": "s", "type": "nominal", "scale": {"domain": ["Score 0", "Score 1", "Score 2", "Score 3"], "range": ["#FDBA12", "#7AC5EC", "#03806F", "#3C5690"]},
        "legend": {"title": "Endoscopic Mayo", "orient": "none", "legendX": 149.5, "legendY": -23, "symbolType": "M-2,-1H2V1H-2Z", "symbolSize": 121, "symbolStrokeColor": "#333", "symbolStrokeWidth": 1, "symbolOpacity": 1, "rowPadding": 0, "titlePadding": 5, "labelOffset": 11, "padding": 0, "titleColor": "#222", "labelColor": "#222"}}
      }},
     {"data": {"values": [{}]}, "mark": {"type": "rule", "color": "#333", "strokeWidth": 1},
      "encoding": {"x": {"datum": -0.69}, "y": {"datum": -0.049}, "y2": {"datum": 0.869}}}
    ]
   },
   {
    "width": 397, "height": 145,
    "title": {"text": "B", "anchor": "start", "frame": "bounds", "offset": 8},
    "layer": [
     {"data": {"name": "bbars"}, "mark": {"type": "bar", "stroke": "#333", "strokeWidth": 0.8},
      "encoding": {
       "x": {"field": "b", "type": "nominal", "scale": {"domain": ["HP|0","HP|1","HP|2","HP|3","g1","CD177|0","CD177|1","CD177|2","CD177|3","g2","GPR84|0","GPR84|1","GPR84|2","GPR84|3","g3","S100A12|0","S100A12|1","S100A12|2","S100A12|3"], "paddingInner": 0, "paddingOuter": 0.78}, "axis": {"labels": false, "ticks": false, "title": null}},
       "y": {"field": "m", "type": "quantitative", "scale": {"domain": [0, 19.17], "nice": false}, "axis": {"values": [0, 4, 8, 12, 16], "tickCount": 50, "format": "d", "title": "Rel. mRNA expression (log2)", "titlePadding": 6, "labelOverlap": false}},
       "color": {"field": "s", "type": "nominal", "scale": {"domain": ["Score 0", "Score 1", "Score 2", "Score 3"], "range": ["#FDBA12", "#7AC5EC", "#03806F", "#3C5690"]}, "legend": null}
      }},
     {"data": {"name": "bbars"}, "mark": {"type": "rule", "color": "#111", "strokeWidth": 0.8},
      "encoding": {"x": {"field": "b", "type": "nominal"}, "y": {"field": "lo", "type": "quantitative"}, "y2": {"field": "hi"}}},
     {"data": {"name": "bbars"}, "mark": {"type": "tick", "orient": "horizontal", "size": 5, "thickness": 0.8, "color": "#111"},
      "encoding": {"x": {"field": "b", "type": "nominal"}, "y": {"field": "lo", "type": "quantitative"}}},
     {"data": {"name": "bbars"}, "mark": {"type": "tick", "orient": "horizontal", "size": 5, "thickness": 0.8, "color": "#111"},
      "encoding": {"x": {"field": "b", "type": "nominal"}, "y": {"field": "hi", "type": "quantitative"}}},
     {"data": {"name": "bpts"}, "transform": [{"window": [{"op": "row_number", "as": "k"}], "groupby": ["b"]}],
      "mark": {"type": "circle", "size": 5, "color": "#000", "opacity": 1},
      "encoding": {"x": {"field": "b", "type": "nominal"}, "xOffset": {"field": "k", "type": "nominal", "scale": {"paddingOuter": 3}}, "y": {"field": "v", "type": "quantitative"}}},
     {"data": {"name": "bbr"}, "mark": {"type": "rule", "color": "#666", "strokeWidth": 1},
      "encoding": {"x": {"field": "x1", "type": "nominal"}, "x2": {"field": "x2"}, "y": {"field": "y", "type": "quantitative"}}},
     {"data": {"name": "bbr"}, "transform": [{"filter": "datum.vs == 1"}], "mark": {"type": "text", "baseline": "bottom", "dy": -1, "color": "#444"},
      "encoding": {"x": {"field": "mid", "type": "nominal", "bandPosition": 0}, "y": {"field": "y", "type": "quantitative"}, "text": {"field": "lab"}}},
     {"data": {"name": "bbr"}, "transform": [{"filter": "datum.vs == 2"}], "mark": {"type": "text", "baseline": "bottom", "dy": -1, "color": "#444"},
      "encoding": {"x": {"field": "mid", "type": "nominal", "bandPosition": 0.5}, "y": {"field": "y", "type": "quantitative"}, "text": {"field": "lab"}}},
     {"data": {"name": "bbr"}, "transform": [{"filter": "datum.vs == 3"}], "mark": {"type": "text", "baseline": "bottom", "dy": -1, "color": "#444"},
      "encoding": {"x": {"field": "mid", "type": "nominal", "bandPosition": 1}, "y": {"field": "y", "type": "quantitative"}, "text": {"field": "lab"}}},
     {"data": {"name": "bgene"}, "mark": {"type": "text", "fontStyle": "italic", "baseline": "middle", "dy": 11},
      "encoding": {"x": {"field": "b", "type": "nominal", "bandPosition": 1}, "y": {"datum": 0}, "text": {"field": "g"}}},
     {"data": {"name": "bgene"}, "mark": {"type": "text", "baseline": "middle", "dy": 24},
      "encoding": {"x": {"field": "b", "type": "nominal", "bandPosition": 1}, "y": {"datum": 0}, "text": {"field": "p"}}}
    ]
   }
  ],
  "spacing": 34,
  "resolve": {"scale": {"color": "independent"}, "legend": {"color": "independent"}}
 },
 {
  "spacing": 7,
  "resolve": {"scale": {"color": "independent"}, "legend": {"color": "independent"}},
  "vconcat": [
   {
    "title": {"text": "C", "anchor": "start", "offset": -4},
    "spacing": 13,
    "hconcat": [
     {
      "width": 132, "height": 121,
      "title": {"text": "HP", "subtitle": "p<0.01; r=0.46", "fontStyle": "italic", "fontSize": 11, "subtitleFontSize": 11, "subtitleColor": "#222", "subtitleFont": "Liberation Serif", "subtitlePadding": 1, "offset": -5, "anchor": "middle", "frame": "group", "color": "#222"},
      "layer": [
       {"data": {"name": "c1"}, "mark": {"type": "circle", "size": 3, "color": "#111", "opacity": 1},
        "encoding": {"x": {"field": "ms", "type": "quantitative", "scale": {"domain": [-0.5, 15.5], "nice": false, "zero": false}, "axis": {"values": [0, 5, 10, 15], "tickCount": 50, "format": "d", "title": "Modified Score (MS)", "titleFont": "Liberation Serif", "titleFontWeight": "normal", "titlePadding": 7, "labelOverlap": false}},
         "y": {"field": "v", "type": "quantitative", "scale": {"domain": [3.25, 12.3], "nice": false, "zero": false}, "axis": {"values": [4, 6, 8, 10, 12], "tickCount": 50, "format": "d", "title": "Rel. mRNA expression (log2)", "titlePadding": 6, "labelOverlap": false}}}},
       {"data": {"values": [{"ms": -0.5, "v": 6.21}, {"ms": 15.5, "v": 9.05}]}, "mark": {"type": "line", "color": "#222", "strokeWidth": 0.9},
        "encoding": {"x": {"field": "ms", "type": "quantitative"}, "y": {"field": "v", "type": "quantitative"}}},
       {"data": {"values": [{"t": "y=6+0.2x"}]}, "mark": {"type": "text", "align": "right", "baseline": "middle"},
        "encoding": {"x": {"datum": 15.2}, "y": {"datum": 4.3}, "text": {"field": "t"}}}
      ]
     },
     {
      "width": 131, "height": 121,
      "title": {"text": "CD177", "subtitle": "p<0.01; r=0.34", "fontStyle": "italic", "fontSize": 11, "subtitleFontSize": 11, "subtitleColor": "#222", "subtitleFont": "Liberation Serif", "subtitlePadding": 1, "offset": -5, "anchor": "middle", "frame": "group", "color": "#222"},
      "layer": [
       {"data": {"name": "c2"}, "mark": {"type": "circle", "size": 3, "color": "#111", "opacity": 1},
        "encoding": {"x": {"field": "ms", "type": "quantitative", "scale": {"domain": [-0.5, 15.5], "nice": false, "zero": false}, "axis": {"values": [0, 5, 10, 15], "tickCount": 50, "format": "d", "title": "Modified Score (MS)", "titleFont": "Liberation Serif", "titleFontWeight": "normal", "titlePadding": 7, "labelOverlap": false}},
         "y": {"field": "v", "type": "quantitative", "scale": {"domain": [1.5, 16.3], "nice": false, "zero": false}, "axis": {"values": [2, 4, 6, 8, 10, 12, 14], "tickCount": 50, "format": "d", "title": "Rel. mRNA expression (log2)", "titlePadding": 9, "labelOverlap": false}}}},
       {"data": {"values": [{"ms": -0.5, "v": 6.76}, {"ms": 15.5, "v": 11.3}]}, "mark": {"type": "line", "color": "#222", "strokeWidth": 0.9},
        "encoding": {"x": {"field": "ms", "type": "quantitative"}, "y": {"field": "v", "type": "quantitative"}}},
       {"data": {"values": [{"t": "y=7+0.3x"}]}, "mark": {"type": "text", "align": "right", "baseline": "middle"},
        "encoding": {"x": {"datum": 15.2}, "y": {"datum": 2.95}, "text": {"field": "t"}}}
      ]
     },
     {
      "width": 130, "height": 121,
      "title": {"text": "GPR84", "subtitle": "p<0.01; r=0.36", "fontStyle": "italic", "fontSize": 11, "subtitleFontSize": 11, "subtitleColor": "#222", "subtitleFont": "Liberation Serif", "subtitlePadding": 1, "offset": -5, "anchor": "middle", "frame": "group", "color": "#222"},
      "layer": [
       {"data": {"name": "c3"}, "mark": {"type": "circle", "size": 3, "color": "#111", "opacity": 1},
        "encoding": {"x": {"field": "ms", "type": "quantitative", "scale": {"domain": [-0.5, 15.5], "nice": false, "zero": false}, "axis": {"values": [0, 5, 10, 15], "tickCount": 50, "format": "d", "title": "Modified Score (MS)", "titleFont": "Liberation Serif", "titleFontWeight": "normal", "titlePadding": 7, "labelOverlap": false}},
         "y": {"field": "v", "type": "quantitative", "scale": {"domain": [1.16, 9.6], "nice": false, "zero": false}, "axis": {"values": [2, 4, 6, 8], "tickCount": 50, "format": "d", "title": "Rel. mRNA expression (log2)", "titlePadding": 20, "labelOverlap": false}}}},
       {"data": {"values": [{"ms": -0.5, "v": 3.99}, {"ms": 15.5, "v": 5.9}]}, "mark": {"type": "line", "color": "#222", "strokeWidth": 0.9},
        "encoding": {"x": {"field": "ms", "type": "quantitative"}, "y": {"field": "v", "type": "quantitative"}}},
       {"data": {"values": [{"t": "y=4+0.1x"}]}, "mark": {"type": "text", "align": "right", "baseline": "middle"},
        "encoding": {"x": {"datum": 15.2}, "y": {"datum": 2.04}, "text": {"field": "t"}}}
      ]
     },
     {
      "width": 129, "height": 121,
      "title": {"text": "S100A12", "subtitle": "p=0.02; r=0.24", "fontStyle": "italic", "fontSize": 11, "subtitleFontSize": 11, "subtitleColor": "#222", "subtitleFont": "Liberation Serif", "subtitlePadding": 1, "offset": -5, "anchor": "middle", "frame": "group", "color": "#222"},
      "layer": [
       {"data": {"name": "c4"}, "mark": {"type": "circle", "size": 3, "color": "#111", "opacity": 1},
        "encoding": {"x": {"field": "ms", "type": "quantitative", "scale": {"domain": [-0.5, 15.5], "nice": false, "zero": false}, "axis": {"values": [0, 5, 10, 15], "tickCount": 50, "format": "d", "title": "Modified Score (MS)", "titleFont": "Liberation Serif", "titleFontWeight": "normal", "titlePadding": 7, "labelOverlap": false}},
         "y": {"field": "v", "type": "quantitative", "scale": {"domain": [8.68, 16.66], "nice": false, "zero": false}, "axis": {"values": [10, 12, 14, 16], "tickCount": 50, "format": "d", "title": "Rel. mRNA expression (log2)", "titlePadding": 6, "labelOverlap": false}}}},
       {"data": {"values": [{"ms": -0.5, "v": 10.75}, {"ms": 15.5, "v": 12.4}]}, "mark": {"type": "line", "color": "#222", "strokeWidth": 0.9},
        "encoding": {"x": {"field": "ms", "type": "quantitative"}, "y": {"field": "v", "type": "quantitative"}}},
       {"data": {"values": [{"t": "y=11+0.1x"}]}, "mark": {"type": "text", "align": "right", "baseline": "middle"},
        "encoding": {"x": {"datum": 15.2}, "y": {"datum": 9.49}, "text": {"field": "t"}}}
      ]
     }
    ]
   },
   {
    "spacing": 31,
    "resolve": {"scale": {"color": "independent"}, "legend": {"color": "independent"}},
    "vconcat": [
     {
      "spacing": 14.5,
      "resolve": {"scale": {"color": "independent"}, "legend": {"color": "independent"}},
      "hconcat": [
       {"width": 88, "height": 145, "data": {"values": []}, "mark": "point"},
       {
        "width": 94, "height": 145,
        "title": {"text": "D", "anchor": "start", "frame": "bounds", "offset": 2},
        "layer": [
         {"data": {"name": "d1bars"}, "mark": {"type": "bar", "stroke": "#333", "strokeWidth": 0.8},
          "encoding": {
           "x": {"field": "s", "type": "nominal", "scale": {"domain": ["Score 0", "Score 1", "Score 2", "Score 3"], "paddingInner": 0, "paddingOuter": 0.42}, "axis": {"labels": false, "ticks": false, "title": "p<0.01; r=0.37", "titlePadding": 4}},
           "y": {"field": "m", "type": "quantitative", "scale": {"domain": [2.5, 17.3], "nice": false, "zero": false}, "axis": {"values": [3, 5, 7, 9, 11, 13, 15, 17], "tickCount": 50, "format": "d", "title": "log2(CRP(mg/dL))", "titlePadding": 8, "labelOverlap": false}},
           "y2": {"datum": 2.5},
           "color": {"field": "s", "type": "nominal", "scale": {"domain": ["Score 0", "Score 1", "Score 2", "Score 3"], "range": ["#FDBA12", "#7AC5EC", "#03806F", "#3C5690"]}, "legend": null}
          }},
         {"data": {"name": "d1bars"}, "mark": {"type": "rule", "color": "#111", "strokeWidth": 0.8},
          "encoding": {"x": {"field": "s", "type": "nominal"}, "y": {"field": "lo", "type": "quantitative"}, "y2": {"field": "hi"}}},
         {"data": {"name": "d1bars"}, "mark": {"type": "tick", "orient": "horizontal", "size": 5, "thickness": 0.8, "color": "#111"},
          "encoding": {"x": {"field": "s", "type": "nominal"}, "y": {"field": "lo", "type": "quantitative"}}},
         {"data": {"name": "d1bars"}, "mark": {"type": "tick", "orient": "horizontal", "size": 5, "thickness": 0.8, "color": "#111"},
          "encoding": {"x": {"field": "s", "type": "nominal"}, "y": {"field": "hi", "type": "quantitative"}}},
         {"data": {"name": "d1pts"}, "transform": [{"window": [{"op": "row_number", "as": "k"}], "groupby": ["s"]}],
          "mark": {"type": "circle", "size": 5, "color": "#000", "opacity": 1},
          "encoding": {"x": {"field": "s", "type": "nominal"}, "xOffset": {"field": "k", "type": "nominal", "scale": {"paddingOuter": 3}}, "y": {"field": "v", "type": "quantitative"}}},
         {"data": {"name": "d1br"}, "mark": {"type": "rule", "color": "#666", "strokeWidth": 1},
          "encoding": {"x": {"field": "x1", "type": "nominal"}, "x2": {"field": "x2"}, "y": {"field": "y", "type": "quantitative"}}},
         {"data": {"name": "d1br"}, "transform": [{"filter": "datum.vs == 1"}], "mark": {"type": "text", "baseline": "bottom", "dy": -1, "color": "#444"},
          "encoding": {"x": {"field": "mid", "type": "nominal", "bandPosition": 0}, "y": {"field": "y", "type": "quantitative"}, "text": {"field": "lab"}}},
         {"data": {"name": "d1br"}, "transform": [{"filter": "datum.vs == 2"}], "mark": {"type": "text", "baseline": "bottom", "dy": -1, "color": "#444"},
          "encoding": {"x": {"field": "mid", "type": "nominal", "bandPosition": 0.5}, "y": {"field": "y", "type": "quantitative"}, "text": {"field": "lab"}}},
         {"data": {"name": "d1br"}, "transform": [{"filter": "datum.vs == 3"}], "mark": {"type": "text", "baseline": "bottom", "dy": -1, "color": "#444"},
          "encoding": {"x": {"field": "mid", "type": "nominal", "bandPosition": 1}, "y": {"field": "y", "type": "quantitative"}, "text": {"field": "lab"}}}
        ]
       },
       {
        "spacing": 24.5,
        "resolve": {"scale": {"color": "independent"}, "legend": {"color": "independent"}},
        "hconcat": [
         {
          "width": 92, "height": 145,
          "layer": [
           {"data": {"name": "d2bars"}, "mark": {"type": "bar", "stroke": "#333", "strokeWidth": 0.8},
            "encoding": {
             "x": {"field": "s", "type": "nominal", "scale": {"domain": ["Score 0", "Score 1", "Score 2", "Score 3"], "paddingInner": 0, "paddingOuter": 0.42}, "axis": {"labels": false, "ticks": false, "title": "p=0.04; r=0.24", "titlePadding": 4}},
             "y": {"field": "m", "type": "quantitative", "scale": {"domain": [0, 7.45], "nice": false}, "axis": {"values": [0, 1, 2, 3, 4, 5, 6, 7], "tickCount": 50, "format": "d", "title": "log2(ESR(mm/h))", "titlePadding": 16, "labelOverlap": false}},
             "color": {"field": "s", "type": "nominal", "scale": {"domain": ["Score 0", "Score 1", "Score 2", "Score 3"], "range": ["#FDBA12", "#7AC5EC", "#03806F", "#3C5690"]}, "legend": null}
            }},
           {"data": {"name": "d2bars"}, "mark": {"type": "rule", "color": "#111", "strokeWidth": 0.8},
            "encoding": {"x": {"field": "s", "type": "nominal"}, "y": {"field": "lo", "type": "quantitative"}, "y2": {"field": "hi"}}},
           {"data": {"name": "d2bars"}, "mark": {"type": "tick", "orient": "horizontal", "size": 5, "thickness": 0.8, "color": "#111"},
            "encoding": {"x": {"field": "s", "type": "nominal"}, "y": {"field": "lo", "type": "quantitative"}}},
           {"data": {"name": "d2bars"}, "mark": {"type": "tick", "orient": "horizontal", "size": 5, "thickness": 0.8, "color": "#111"},
            "encoding": {"x": {"field": "s", "type": "nominal"}, "y": {"field": "hi", "type": "quantitative"}}},
           {"data": {"name": "d2pts"}, "transform": [{"window": [{"op": "row_number", "as": "k"}], "groupby": ["s"]}],
            "mark": {"type": "circle", "size": 5, "color": "#000", "opacity": 1},
            "encoding": {"x": {"field": "s", "type": "nominal"}, "xOffset": {"field": "k", "type": "nominal", "scale": {"paddingOuter": 2}}, "y": {"field": "v", "type": "quantitative"}}},
           {"data": {"name": "d2br"}, "mark": {"type": "rule", "color": "#666", "strokeWidth": 1},
            "encoding": {"x": {"field": "x1", "type": "nominal"}, "x2": {"field": "x2"}, "y": {"field": "y", "type": "quantitative"}}},
           {"data": {"name": "d2br"}, "transform": [{"filter": "datum.vs == 1"}], "mark": {"type": "text", "baseline": "bottom", "dy": -1, "color": "#444"},
            "encoding": {"x": {"field": "mid", "type": "nominal", "bandPosition": 0}, "y": {"field": "y", "type": "quantitative"}, "text": {"field": "lab"}}},
           {"data": {"name": "d2br"}, "transform": [{"filter": "datum.vs == 2"}], "mark": {"type": "text", "baseline": "bottom", "dy": -1, "color": "#444"},
            "encoding": {"x": {"field": "mid", "type": "nominal", "bandPosition": 0.5}, "y": {"field": "y", "type": "quantitative"}, "text": {"field": "lab"}}},
           {"data": {"name": "d2br"}, "transform": [{"filter": "datum.vs == 3"}], "mark": {"type": "text", "baseline": "bottom", "dy": -1, "color": "#444"},
            "encoding": {"x": {"field": "mid", "type": "nominal", "bandPosition": 1}, "y": {"field": "y", "type": "quantitative"}, "text": {"field": "lab"}}}
          ]
         },
         {
          "width": 93, "height": 145,
          "layer": [
           {"data": {"name": "d3bars"}, "mark": {"type": "bar", "stroke": "#333", "strokeWidth": 0.8},
            "encoding": {
             "x": {"field": "s", "type": "nominal", "scale": {"domain": ["Score 0", "Score 1", "Score 2", "Score 3"], "paddingInner": 0, "paddingOuter": 0.45}, "axis": {"labels": false, "ticks": false, "title": "p<0.01; r=0.29", "titlePadding": 4}},
             "y": {"field": "m", "type": "quantitative", "scale": {"domain": [5.85, 10.06], "nice": false, "zero": false}, "axis": {"values": [6, 6.5, 7, 7.5, 8, 8.5, 9, 9.5, 10], "tickCount": 50, "format": ".1f", "title": "log2(Platelet count (10⁹/L))", "titlePadding": 5, "labelOverlap": false}},
             "y2": {"datum": 5.85},
             "color": {"field": "s", "type": "nominal", "scale": {"domain": ["Score 0", "Score 1", "Score 2", "Score 3"], "range": ["#FDBA12", "#7AC5EC", "#03806F", "#3C5690"]}, "legend": null}
            }},
           {"data": {"name": "d3bars"}, "mark": {"type": "rule", "color": "#111", "strokeWidth": 0.8},
            "encoding": {"x": {"field": "s", "type": "nominal"}, "y": {"field": "lo", "type": "quantitative"}, "y2": {"field": "hi"}}},
           {"data": {"name": "d3bars"}, "mark": {"type": "tick", "orient": "horizontal", "size": 5, "thickness": 0.8, "color": "#111"},
            "encoding": {"x": {"field": "s", "type": "nominal"}, "y": {"field": "lo", "type": "quantitative"}}},
           {"data": {"name": "d3bars"}, "mark": {"type": "tick", "orient": "horizontal", "size": 5, "thickness": 0.8, "color": "#111"},
            "encoding": {"x": {"field": "s", "type": "nominal"}, "y": {"field": "hi", "type": "quantitative"}}},
           {"data": {"name": "d3pts"}, "transform": [{"window": [{"op": "row_number", "as": "k"}], "groupby": ["s"]}],
            "mark": {"type": "circle", "size": 5, "color": "#000", "opacity": 1},
            "encoding": {"x": {"field": "s", "type": "nominal"}, "xOffset": {"field": "k", "type": "nominal", "scale": {"paddingOuter": 2}}, "y": {"field": "v", "type": "quantitative"}}},
           {"data": {"name": "d3br"}, "mark": {"type": "rule", "color": "#666", "strokeWidth": 1},
            "encoding": {"x": {"field": "x1", "type": "nominal"}, "x2": {"field": "x2"}, "y": {"field": "y", "type": "quantitative"}}},
           {"data": {"name": "d3br"}, "transform": [{"filter": "datum.vs == 1"}], "mark": {"type": "text", "baseline": "bottom", "dy": -1, "color": "#444"},
            "encoding": {"x": {"field": "mid", "type": "nominal", "bandPosition": 0}, "y": {"field": "y", "type": "quantitative"}, "text": {"field": "lab"}}},
           {"data": {"name": "d3br"}, "transform": [{"filter": "datum.vs == 2"}], "mark": {"type": "text", "baseline": "bottom", "dy": -1, "color": "#444"},
            "encoding": {"x": {"field": "mid", "type": "nominal", "bandPosition": 0.5}, "y": {"field": "y", "type": "quantitative"}, "text": {"field": "lab"}}},
           {"data": {"name": "d3br"}, "transform": [{"filter": "datum.vs == 3"}], "mark": {"type": "text", "baseline": "bottom", "dy": -1, "color": "#444"},
            "encoding": {"x": {"field": "mid", "type": "nominal", "bandPosition": 1}, "y": {"field": "y", "type": "quantitative"}, "text": {"field": "lab"}}}
          ]
         }
        ]
       }
      ]
     },
     {
      "spacing": 18,
      "hconcat": [
       {"width": 38, "height": 120, "title": {"text": "E", "anchor": "start", "offset": -12, "dx": -36}, "data": {"values": []}, "mark": "point"},
       {
        "width": 138, "height": 120,
        "layer": [
         {"data": {"name": "e1"}, "mark": {"type": "circle", "size": 3, "color": "#111", "opacity": 1},
          "encoding": {"x": {"field": "ms", "type": "quantitative", "scale": {"domain": [-0.5, 15.5], "nice": false, "zero": false}, "axis": {"values": [0, 5, 10, 15], "tickCount": 50, "format": "d", "title": ["Modified Score (MS)", "p<0.01; r=0.29"], "titleFont": "Liberation Serif", "titleFontWeight": "normal", "titleLineHeight": 13, "titlePadding": 4, "labelOverlap": false}},
           "y": {"field": "v", "type": "quantitative", "scale": {"domain": [2.86, 16.5], "nice": false, "zero": false}, "axis": {"values": [4, 6, 8, 10, 12, 14, 16], "tickCount": 50, "format": "d", "title": "log2(CRP(mg/dL))", "titlePadding": 4, "labelPadding": 6, "labelOverlap": false}}}},
         {"data": {"values": [{"ms": -0.5, "v": 7.5}, {"ms": 15.5, "v": 10.5}]}, "mark": {"type": "line", "color": "#222", "strokeWidth": 0.9},
          "encoding": {"x": {"field": "ms", "type": "quantitative"}, "y": {"field": "v", "type": "quantitative"}}},
         {"data": {"values": [{"t": "y=7.6+0.2x"}]}, "mark": {"type": "text", "align": "right", "baseline": "middle"},
          "encoding": {"x": {"datum": 15}, "y": {"datum": 4.27}, "text": {"field": "t"}}}
        ]
       },
       {
        "width": 135, "height": 120,
        "layer": [
         {"data": {"name": "e2"}, "mark": {"type": "circle", "size": 3, "color": "#111", "opacity": 1},
          "encoding": {"x": {"field": "ms", "type": "quantitative", "scale": {"domain": [-0.5, 15.5], "nice": false, "zero": false}, "axis": {"values": [0, 5, 10, 15], "tickCount": 50, "format": "d", "title": ["Modified Score (MS)", "p=0.07; r=0.23"], "titleFont": "Liberation Serif", "titleFontWeight": "normal", "titleLineHeight": 13, "titlePadding": 4, "labelOverlap": false}},
           "y": {"field": "v", "type": "quantitative", "scale": {"domain": [-0.24, 7.1], "nice": false, "zero": false}, "axis": {"values": [0, 1, 2, 3, 4, 5, 6, 7], "tickCount": 50, "format": "d", "title": "log2(ESR (mm/h))", "titlePadding": 15, "labelOverlap": false}}}},
         {"data": {"values": [{"ms": -0.5, "v": 2.9}, {"ms": 15.5, "v": 4.6}]}, "mark": {"type": "line", "color": "#222", "strokeWidth": 0.9},
          "encoding": {"x": {"field": "ms", "type": "quantitative"}, "y": {"field": "v", "type": "quantitative"}}},
         {"data": {"values": [{"t": "y=3+0.1x"}]}, "mark": {"type": "text", "align": "right", "baseline": "middle"},
          "encoding": {"x": {"datum": 15}, "y": {"datum": 0.47}, "text": {"field": "t"}}}
        ]
       },
       {
        "width": 138, "height": 120,
        "layer": [
         {"data": {"name": "e3"}, "mark": {"type": "circle", "size": 3, "color": "#111", "opacity": 1},
          "encoding": {"x": {"field": "ms", "type": "quantitative", "scale": {"domain": [-0.5, 15.5], "nice": false, "zero": false}, "axis": {"values": [0, 5, 10, 15], "tickCount": 50, "format": "d", "title": ["Modified Score (MS)", "p<0.01; r=0.37"], "titleFont": "Liberation Serif", "titleFontWeight": "normal", "titleLineHeight": 13, "titlePadding": 4, "labelOverlap": false}},
           "y": {"field": "v", "type": "quantitative", "scale": {"domain": [6.24, 9.73], "nice": false, "zero": false}, "axis": {"values": [6.5, 7, 7.5, 8, 8.5, 9, 9.5], "tickCount": 50, "format": ".1f", "title": "log2(Platelet count (10⁹/L))", "titlePadding": 11, "labelOverlap": false}}}},
         {"data": {"values": [{"ms": -0.5, "v": 7.78}, {"ms": 15.5, "v": 8.68}]}, "mark": {"type": "line", "color": "#222", "strokeWidth": 0.9},
          "encoding": {"x": {"field": "ms", "type": "quantitative"}, "y": {"field": "v", "type": "quantitative"}}},
         {"data": {"values": [{"t": "y=7.8+0.5x"}]}, "mark": {"type": "text", "align": "right", "baseline": "middle"},
          "encoding": {"x": {"datum": 15}, "y": {"datum": 6.62}, "text": {"field": "t"}}}
        ]
       }
      ]
     }
    ]
   }
  ]
 }
]
}
